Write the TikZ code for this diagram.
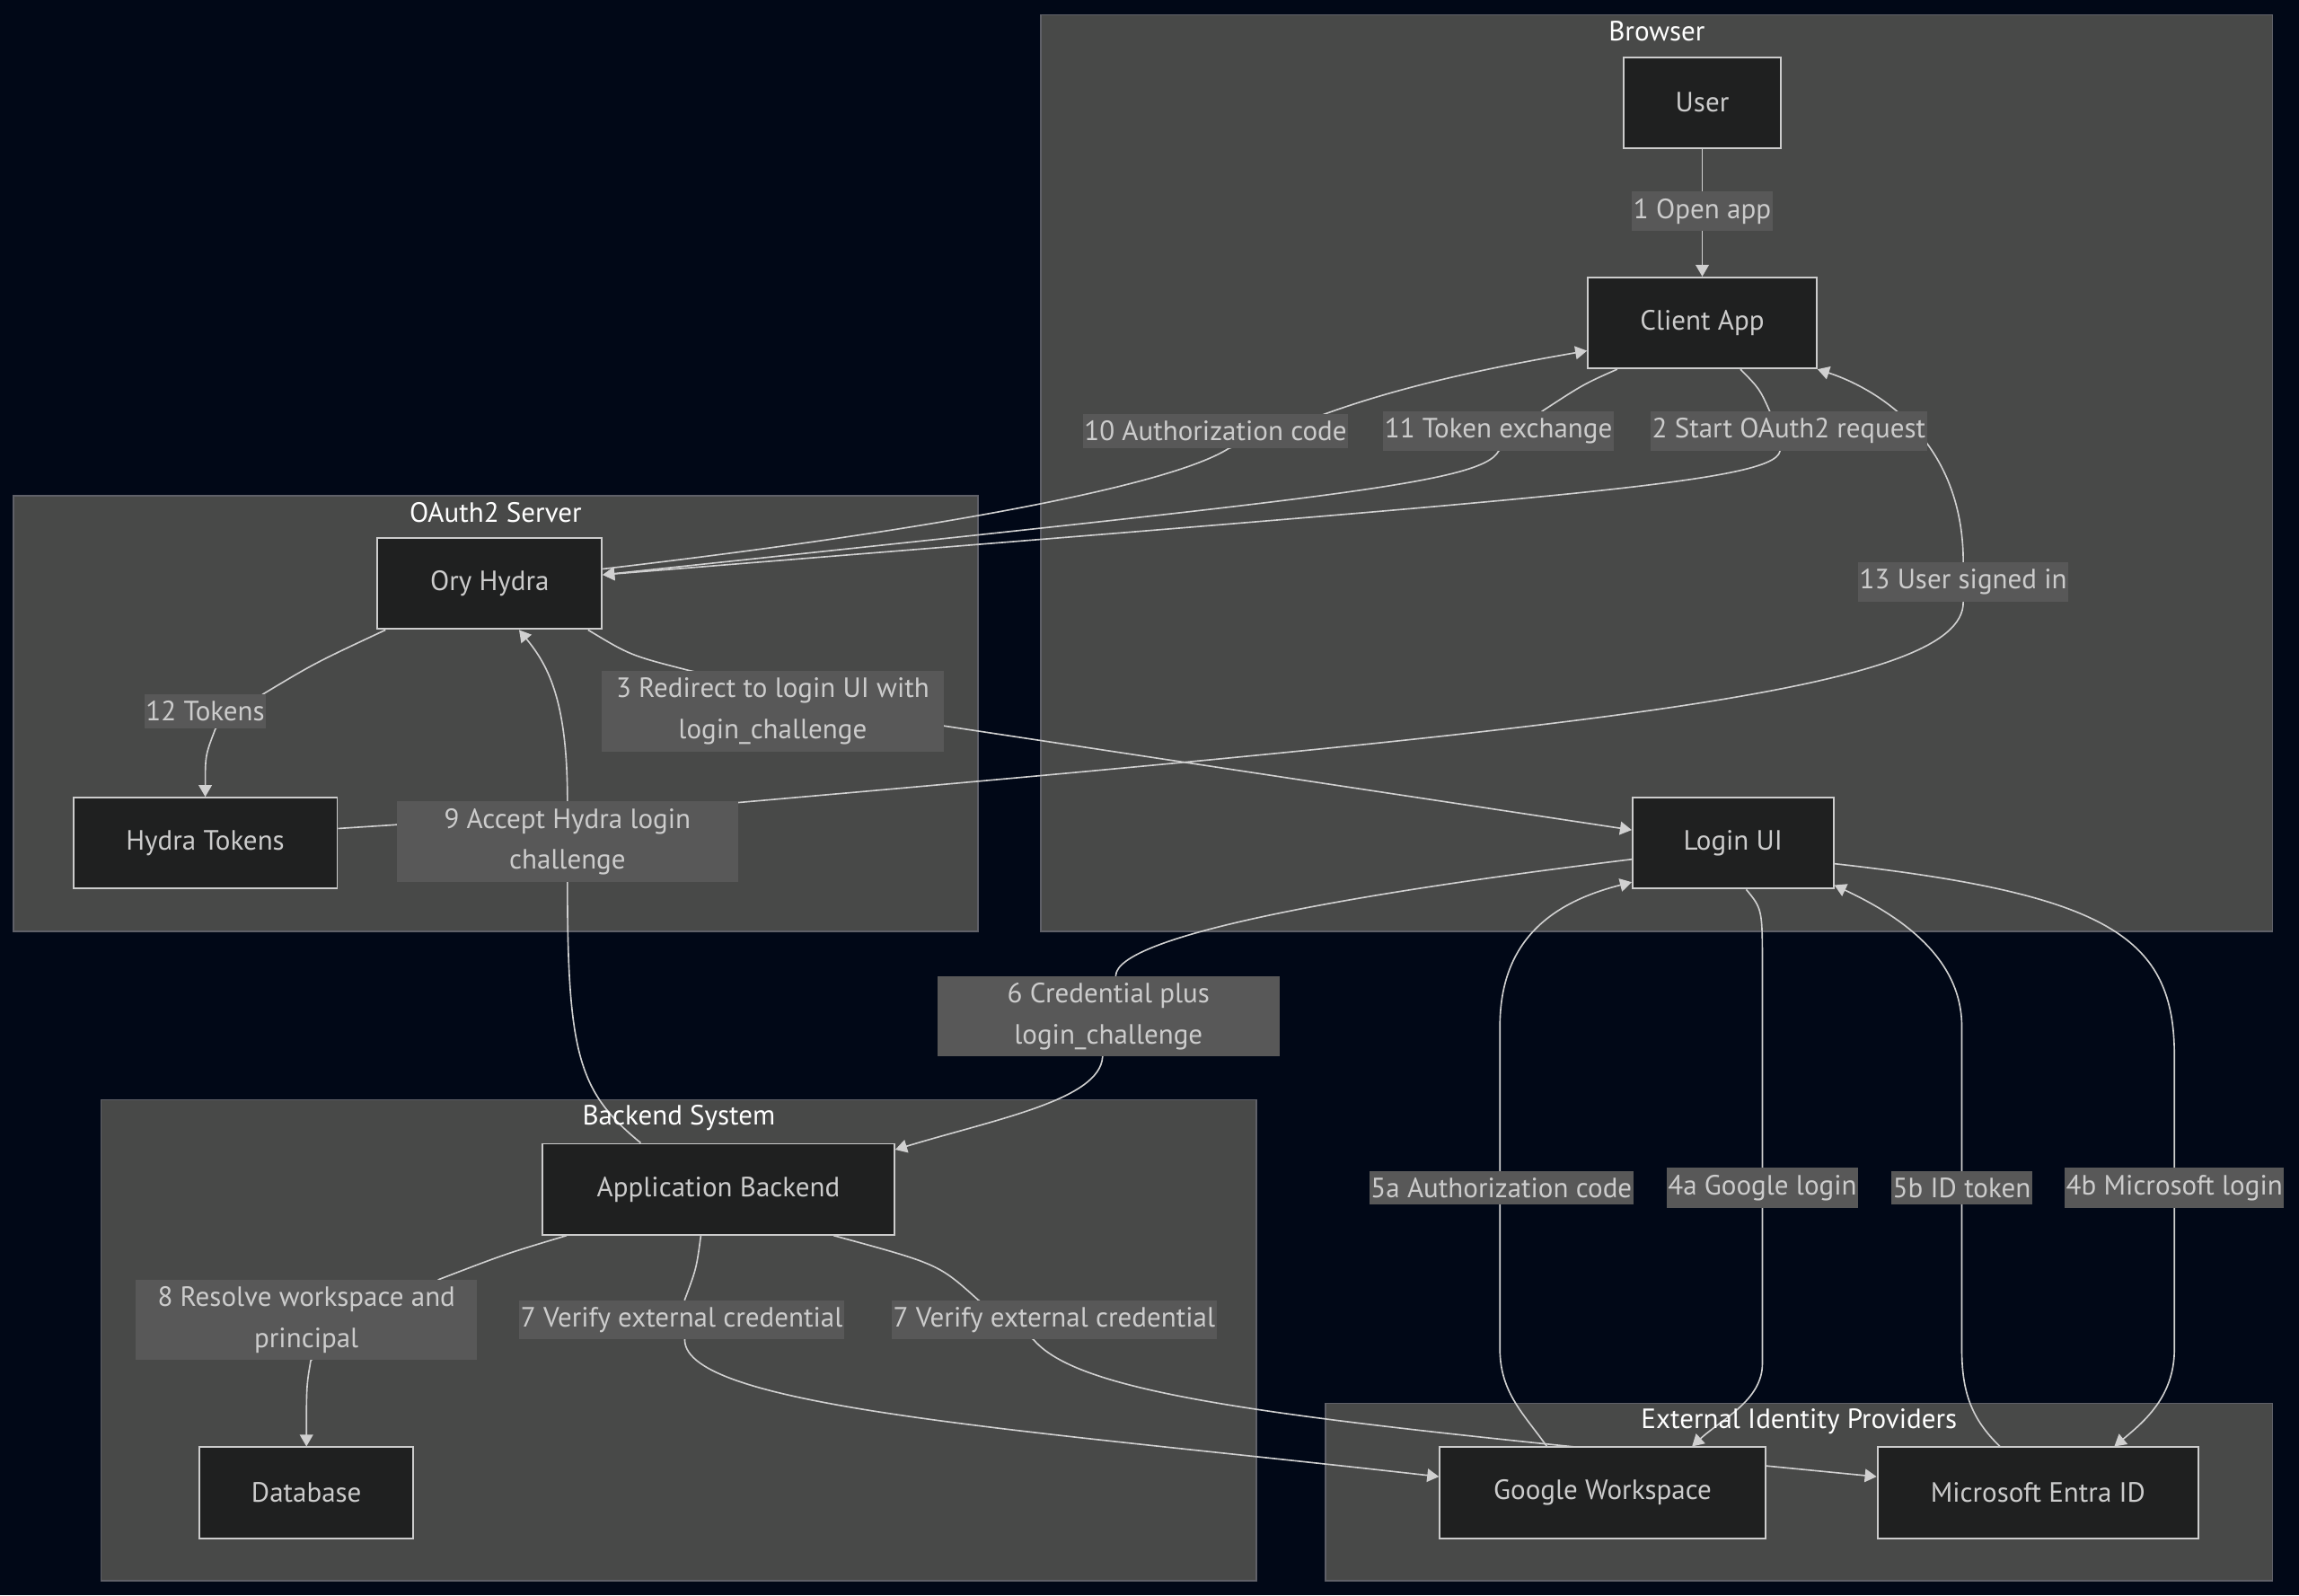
\documentclass[tikz,border=0pt]{standalone}
\usepackage{fontspec}
\setmainfont{PT Sans}
\usetikzlibrary{arrows.meta,positioning,calc}

\definecolor{pagebg}{HTML}{010817}
\definecolor{clusterbg}{HTML}{484948}
\definecolor{clusterline}{HTML}{5F6068}
\definecolor{nodebg}{HTML}{1F2020}
\definecolor{nodeline}{HTML}{CCCCCC}
\definecolor{labelbg}{HTML}{585858}
\definecolor{textgray}{HTML}{CCCCCC}
\definecolor{linegray}{HTML}{D0D0D0}

\pgfdeclarelayer{clusters}
\pgfdeclarelayer{edges}
\pgfsetlayers{clusters,edges,main}

\begin{document}
\begin{tikzpicture}[
  x=1pt, y=-1pt,
  font=\fontsize{19}{28}\selectfont,
  cluster/.style={rectangle, draw=clusterline, fill=clusterbg, line width=1pt, inner sep=0pt},
  ctitle/.style={text=white, inner sep=0pt},
  box/.style={rectangle, draw=nodeline, fill=nodebg, line width=1.2pt,
              minimum height=62pt, inner xsep=0pt, text=textgray},
  elabel/.style={rectangle, fill=labelbg, text=textgray, inner xsep=1pt,
                 inner ysep=4.75pt, align=center},
  wlabel/.style={elabel, minimum width=233pt},
  arr/.style={draw=linegray, line width=1pt, -{Triangle[length=8pt,width=9pt]}}
]

\useasboundingbox (0,0) rectangle (1568,1088);

% Subgraphs
\begin{pgfonlayer}{clusters}
\fill[pagebg] (0,0) rectangle (1568,1088);
\node[cluster, minimum width=840pt, minimum height=625pt] (browser)    at (1130,322.5) {};
\node[cluster, minimum width=658pt, minimum height=297pt] (oauth)      at (338,486.5)  {};
\node[cluster, minimum width=788pt, minimum height=328pt] (backendsys) at (463,914)    {};
\node[cluster, minimum width=646pt, minimum height=121pt] (idp)        at (1227,1017.5) {};
\end{pgfonlayer}

\node[ctitle] (tbrowser) at ($(browser.north)+(0,12)$)    {Browser};
\node[ctitle] (toauth)   at ($(oauth.north)+(0,12)$)      {OAuth2 Server};
\node[ctitle] (tbackend) at ($(backendsys.north)+(0,13)$) {Backend System};
\node[ctitle] (tidp)     at ($(idp.north)+(0,13)$)        {External Identity Providers};

% Browser
\node[box, minimum width=107pt] (user) at (1161,70) {User};
\node[box, minimum width=156pt, below=87pt of user] (client) {Client App};
\node[box, minimum width=137pt] (login) at (1182,575) {Login UI};

% OAuth2 server
\node[box, minimum width=153pt] (hydra)  at (334,398) {Ory Hydra};
\node[box, minimum width=180pt] (tokens) at (140,575) {Hydra Tokens};

% Backend
\node[box, minimum width=240pt] (backend) at (490,811)  {Application Backend};
\node[box, minimum width=146pt] (db)      at (209,1018) {Database};

% Identity providers
\node[box, minimum width=222pt] (google) at (1093,1018) {Google Workspace};
\node[box, minimum width=219pt] (entra)  at (1390,1018) {Microsoft Entra ID};

% Edge labels
\node[elabel] (lbl1)  at (1161,144) {1 Open app};
\node[elabel] (lbl10) at (829,294)  {10 Authorization code};
\node[elabel] (lbl11) at (1022,294) {11 Token exchange};
\node[elabel] (lbl2)  at (1220,294) {2 Start OAuth2 request};
\node[elabel] (lbl13) at (1339,397) {13 User signed in};
\node[elabel] (lbl12) at (140,485)  {12 Tokens};
\node[wlabel] (lbl3)  at (527,485)  {3 Redirect to login UI with\\login\_challenge};
\node[wlabel] (lbl9)  at (387,574)  {9 Accept Hydra login\\challenge};
\node[wlabel] (lbl6)  at (756,693)  {6 Credential plus\\login\_challenge};
\node[wlabel] (lbl8)  at (209,900)  {8 Resolve workspace and\\principal};
\node[elabel] (lbl7a) at (465,900)  {7 Verify external credential};
\node[elabel] (lbl7b) at (719,900)  {7 Verify external credential};
\node[elabel] (lbl5a) at (1024,810) {5a Authorization code};
\node[elabel] (lbl4a) at (1202,810) {4a Google login};
\node[elabel] (lbl5b) at (1338,810) {5b ID token};
\node[elabel] (lbl4b) at (1483,810) {4b Microsoft login};

% Connectors
\begin{pgfonlayer}{edges}
\draw[arr] (user) -- (client);
\draw[arr] ($(client.south)+(26,0)$) .. controls (1200,265) .. ($(lbl2.north)+(-13,0)$)
  -- ($(lbl2.south)+(-6,0)$) .. controls (1210,330) and (1050,340) .. ($(hydra.east)+(0,-6)$);
\draw[arr] ($(hydra.south east)+(-10,0)$) .. controls (430,447) .. ($(lbl3.north west)+(60,0)$)
  -- ($(lbl3.east)+(0,10)$) -- ($(login.west)+(0,-9)$);
\draw[arr] ($(login.south)+(9,0)$) .. controls (1202,620) .. (1202,660) -- (1202,930)
  .. controls (1202,955) and (1174,968) .. ($(google.north)+(61,0)$);
\draw[arr] ($(login.east)+(0,14)$) .. controls (1440,610) and (1483,640) .. (1483,720) -- (1483,920)
  .. controls (1483,952) and (1463,969) .. ($(entra.north)+(52,0)$);
\draw[arr] ($(google.north)+(-38,0)$) .. controls (1040,965) and (1023,950) .. (1023,920) -- (1023,700)
  .. controls (1023,640) and (1060,615) .. ($(login.south west)+(0,-5)$);
\draw[arr] ($(entra.north)+(-26,0)$) .. controls (1345,968) and (1338,950) .. (1338,920) -- (1338,700)
  .. controls (1338,650) and (1290,622) .. ($(login.south east)+(0,-3)$);
\draw[arr] ($(login.west)+(0,11)$) .. controls (900,612) and (762,640) .. ($(lbl6.north)+(5,0)$)
  -- ($(lbl6.south)+(-4,0)$) .. controls (750,750) and (680,763) .. ($(backend.east)+(0,-27)$);
\draw[arr] ($(backend.south)+(-12,0)$) .. controls (475,865) .. ($(lbl7a.north)+(2,0)$)
  -- ($(lbl7a.south)+(2,0)$) .. controls (467,960) and (700,975) .. ($(google.west)+(0,-11)$);
\draw[arr] ($(backend.south east)+(-42,0)$) .. controls (640,862) .. ($(lbl7b.north)+(-52,0)$)
  -- ($(lbl7b.south)+(-14,0)$) .. controls (740,955) and (900,970) .. ($(entra.west)+(0,-11)$);
\draw[arr] ($(backend.south west)+(17,0)$) .. controls (345,855) .. ($(lbl8.north east)+(-26,0)$)
  -- ($(lbl8.south)+(3,0)$) .. controls (209,945) .. (db.north);
\draw[arr] ($(backend.north)+(-53,0)$) .. controls (395,745) and (387,720) .. (lbl9.south)
  -- (lbl9.north) .. controls (387,480) and (375,455) .. ($(hydra.south)+(20,0)$);
\draw[arr] ($(hydra.east)+(0,-10)$) .. controls (650,360) and (800,330) .. ($(lbl10.south)+(9,0)$)
  -- ($(lbl10.north)+(75,0)$) .. controls (960,262) and (1020,250) .. ($(client.west)+(0,19)$);
\draw[arr] ($(client.south)+(-58,0)$) .. controls (1080,262) .. ($(lbl11.north)+(30,0)$)
  -- (lbl11.south) .. controls (1010,330) and (900,340) .. ($(hydra.east)+(0,-6)$);
\draw[arr] ($(hydra.south west)+(6,0)$) .. controls (215,452) .. ($(lbl12.north east)+(-2,0)$)
  -- ($(lbl12.south)+(7,0)$) .. controls (140,515) .. (tokens.north);
\draw[arr] ($(tokens.east)+(0,-10)$) -- ($(lbl9.north east)+(0,1)$)
  .. controls (1100,495) and (1339,470) .. (lbl13.south) -- (lbl13.north)
  .. controls (1339,300) and (1280,265) .. (client.south east);
\end{pgfonlayer}

\end{tikzpicture}
\end{document}
